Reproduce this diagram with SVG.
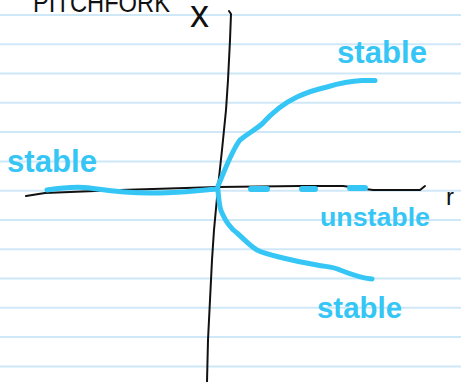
<svg xmlns="http://www.w3.org/2000/svg" width="461" height="382" viewBox="0 0 461 382">
<style>
.rule{stroke:#cfe8f8;stroke-width:2;fill:none}
.ink{stroke:#111;stroke-width:2;fill:none;stroke-linecap:round;stroke-linejoin:round}
.blue{stroke:#36c6f6;stroke-width:5;fill:none;stroke-linecap:round;stroke-linejoin:round}
.dash{stroke:#36c6f6;stroke-width:6;fill:none;stroke-linecap:round}
.lbl{fill:#36c6f6;font-family:"Liberation Sans",Arial,sans-serif;font-weight:bold}
.blk{fill:#111;font-family:"Liberation Sans",Arial,sans-serif}
</style>
<rect width="461" height="382" fill="#fff"/>
<g id="paper">
<line class="rule" x1="0" x2="461" y1="15" y2="15"/>
<line class="rule" x1="0" x2="461" y1="44.3" y2="44.3"/>
<line class="rule" x1="0" x2="461" y1="73.6" y2="73.6"/>
<line class="rule" x1="0" x2="461" y1="102.8" y2="102.8"/>
<line class="rule" x1="0" x2="461" y1="132.1" y2="132.1"/>
<line class="rule" x1="0" x2="461" y1="161.4" y2="161.4"/>
<line class="rule" x1="0" x2="461" y1="190.7" y2="190.7"/>
<line class="rule" x1="0" x2="461" y1="220" y2="220"/>
<line class="rule" x1="0" x2="461" y1="249.2" y2="249.2"/>
<line class="rule" x1="0" x2="461" y1="278.5" y2="278.5"/>
<line class="rule" x1="0" x2="461" y1="307.8" y2="307.8"/>
<line class="rule" x1="0" x2="461" y1="337.1" y2="337.1"/>
<line class="rule" x1="0" x2="461" y1="366.4" y2="366.4"/>
</g>
<g id="title">
<text class="blk" x="33" y="12" font-size="28" textLength="137" lengthAdjust="spacingAndGlyphs">PITCHFORK</text>
</g>
<g id="axes">
<path class="ink" d="M229,11 L231,14 L230,40 L228,80 L226,110 L222,150 L218,187 L214,230 L212,260 L210,300 L208,340 L207,382"/>
<path class="ink" d="M26,196 L45,193 L120,190 L218,187 L300,186 L343,186 L373,190 L420,190 L425,186"/>
<text class="blk" x="190" y="27" font-size="38">x</text>
<text class="blk" x="446" y="205" font-size="24">r</text>
</g>
<g id="branches">
<path class="blue" d="M47,190 C60,188 75,186 90,188 C105,190 120,193 150,193 C180,193 200,190 218,189"/>
<path class="blue" d="M218,186 C225,170 232,150 240,140 C250,132 255,130 262,124 C270,115 280,105 297,97 C310,91 318,89 327,87 C340,83 350,81 362,80.5 L375,80.5"/>
<path class="blue" d="M218,191 C219,200 219,207 222,213 C226,222 230,228 237,233 C245,240 250,246 257,250 C265,254 275,256 283,258 C295,261 305,263 317,265 C328,267 334,267 340,270 C350,274 360,278 372,279"/>
<path class="dash" d="M251,189 L267,189 M302,189 L315,189 M350,188 L365,188"/>
</g>
<g id="labels">
<text class="lbl" x="337" y="63" font-size="31" textLength="90" lengthAdjust="spacingAndGlyphs">stable</text>
<text class="lbl" x="7" y="172" font-size="31" textLength="90" lengthAdjust="spacingAndGlyphs">stable</text>
<text class="lbl" x="320" y="226" font-size="25" textLength="110" lengthAdjust="spacingAndGlyphs">unstable</text>
<text class="lbl" x="317" y="318" font-size="30" textLength="85" lengthAdjust="spacingAndGlyphs">stable</text>
</g>
</svg>
